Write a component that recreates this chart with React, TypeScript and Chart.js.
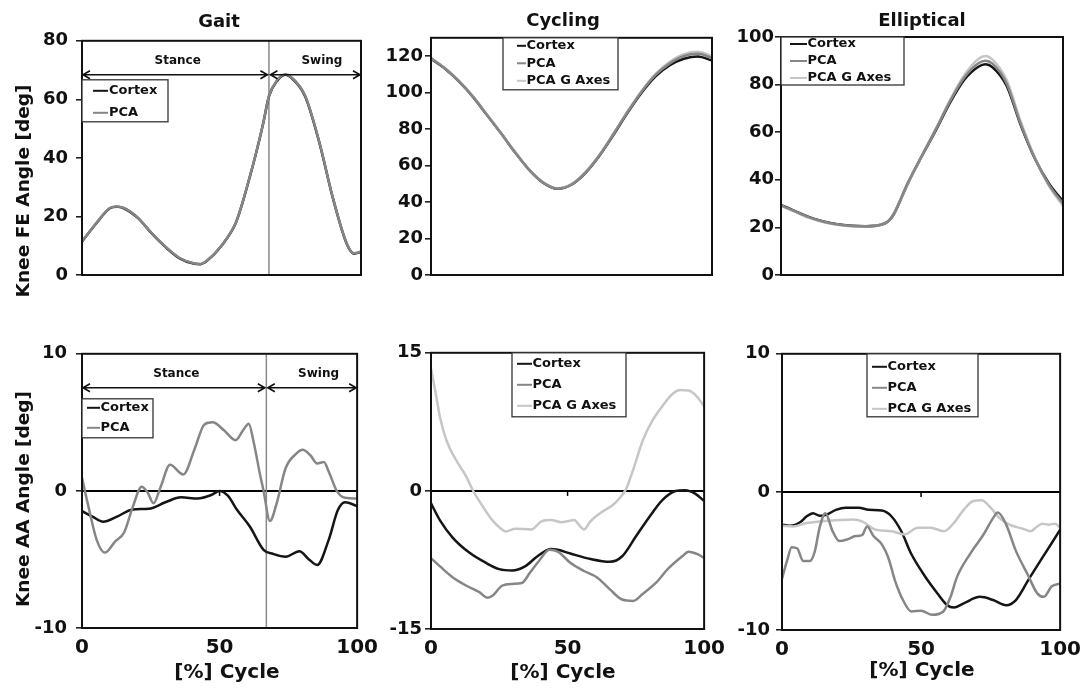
import React, { useEffect, useRef } from 'react';
import { Chart, registerables } from 'chart.js';

Chart.register(...registerables);

const FAMILY = "'DejaVu Sans', 'Liberation Sans', sans-serif";
const INK = '#111111';
const COLOR_CORTEX = '#151515';
const COLOR_PCA = '#868686';
const COLOR_PCAG = '#c6c6c6';

const SERIES_NAMES = ['Cortex', 'PCA', 'PCA G Axes'];
const PANEL_TITLES = ['Gait', 'Cycling', 'Elliptical'];
const Y_TITLES = ['Knee FE Angle [deg]', 'Knee AA Angle [deg]'];
const X_TITLE = '[%] Cycle';
const PHASE_LABELS = ['Stance', 'Swing'];
const PHASE_SPLIT = 67;
const PHASE_LABEL_AT = [34.3, 86];

// y tick labels per panel
const gaitFeTicks = [0, 20, 40, 60, 80];
const cycFeTicks = [0, 20, 40, 60, 80, 100, 120];
const ellFeTicks = [0, 20, 40, 60, 80, 100];
const gaitAaTicks = [-10, 0, 10];
const cycAaTicks = [-15, 0, 15];
const ellAaTicks = [-10, 0, 10];
const xTicks = [0, 50, 100];

// ---------- Gait FE ----------
const gaitFeX = [0, 5, 10, 12.5, 15, 20, 25, 30, 35, 40, 42.5, 45, 50, 55, 57, 60, 62.5, 65, 67, 70, 73, 75, 80, 85, 90, 95, 97.5, 100];
const gaitFeCortex = [11.4, 17.5, 22.8, 23.3, 22.8, 19.5, 14.2, 9.5, 5.7, 3.9, 3.7, 5.0, 10, 17.5, 23, 33, 42, 52, 61, 66.4, 68.4, 67.4, 61, 45.5, 26, 10.4, 7.3, 7.9];
const gaitFePca = [11.5, 17.6, 22.9, 23.4, 22.9, 19.6, 14.3, 9.6, 5.8, 4.0, 3.8, 5.1, 10.1, 17.6, 23.1, 33.1, 42.1, 52.1, 61.1, 66.6, 68.6, 67.6, 61.2, 45.6, 26.1, 10.5, 7.4, 8.0];

// ---------- Cycling FE ----------
const cycFeX = [0, 5, 10, 15, 20, 25, 30, 35, 40, 45, 50, 55, 60, 65, 70, 75, 80, 85, 90, 95, 100];
const cycFeCortex = [118.5, 113, 106, 97.5, 87.5, 77.5, 67, 57.5, 50.5, 47.3, 49.5, 56, 65.5, 77, 89, 100, 109, 115, 118.5, 119.8, 117.5];
const cycFePca = [118.8, 113.2, 106.2, 97.6, 87.6, 77.6, 67.1, 57.6, 50.6, 47.4, 49.6, 56.2, 65.8, 77.4, 89.5, 100.6, 109.8, 116, 120, 121.2, 119];
const cycFePcaG = [119, 113.4, 106.3, 97.8, 87.8, 77.7, 67.2, 57.7, 50.7, 47.5, 49.8, 56.4, 66, 77.7, 89.8, 101, 110.3, 116.8, 121, 122.3, 120];

// ---------- Elliptical FE ----------
const ellFeX = [0, 5, 10, 15, 20, 25, 30, 35, 38, 40, 45, 50, 55, 60, 65, 70, 72.5, 75, 80, 85, 90, 95, 100];
const ellFeCortex = [29.5, 26.8, 24.3, 22.5, 21.3, 20.7, 20.5, 21, 22.5, 25.5, 38.5, 50, 61, 72.5, 82, 87.5, 88.5, 87.3, 79.5, 63, 49, 38.5, 31];
const ellFePca = [29.3, 26.7, 24.2, 22.4, 21.2, 20.6, 20.4, 21, 22.6, 25.8, 38.8, 50.3, 61.5, 73.2, 83, 89, 90, 88.8, 80.5, 63.5, 49, 38, 30];
const ellFePcaG = [29, 26.5, 24, 22.3, 21.1, 20.5, 20.4, 21, 22.6, 25.8, 38.6, 50.2, 61.6, 73.6, 84, 90.8, 92, 90.5, 82, 64.5, 49.5, 37.5, 29];

// ---------- Gait AA ----------
const gaitAaCortexX = [0, 4, 7.7, 12.5, 18.4, 24.3, 30.3, 36, 42, 47, 50, 53, 56.4, 61, 66, 69.5, 74, 79, 82.5, 85.5, 89.7, 93, 95.6, 100];
const gaitAaCortex = [-1.47, -1.9, -2.25, -1.9, -1.35, -1.3, -0.83, -0.47, -0.55, -0.3, 0, -0.35, -1.4, -2.6, -4.3, -4.6, -4.8, -4.4, -5.0, -5.4, -3.55, -1.4, -0.83, -1.1];
const gaitAaPcaX = [0, 2.4, 5.3, 8.3, 12, 15.4, 18.4, 21.7, 23.8, 26, 28.5, 32, 36.8, 41, 44.5, 47.5, 51.7, 55.8, 58.8, 60.6, 62.4, 64.7, 66, 68.3, 70.7, 74, 77.8, 80.2, 83, 85.5, 87.9, 89.7, 92.6, 95.6, 100];
const gaitAaPca = [0.95, -1.2, -3.55, -4.5, -3.7, -3.0, -1.2, 0.3, -0.1, -0.9, 0.24, 1.9, 1.2, 3.1, 4.85, 5.0, 4.4, 3.7, 4.5, 4.9, 3.55, 1.2, 0, -2.2, -0.95, 1.65, 2.7, 3.0, 2.6, 2.0, 2.1, 1.4, 0, -0.5, -0.55];

// ---------- Cycling AA ----------
const cycAaCortexX = [0, 3.3, 8, 14, 20, 25, 29.7, 34.4, 39, 44, 46.4, 51, 58.4, 65.5, 70, 75, 80, 84.7, 89.5, 93, 96.7, 100];
const cycAaCortex = [-1.36, -3.2, -5.1, -6.7, -7.8, -8.5, -8.65, -8.2, -7.1, -6.3, -6.4, -6.8, -7.4, -7.7, -7.1, -4.95, -2.8, -1.0, 0, 0.07, -0.3, -1.1];
const cycAaPcaX = [0, 3.3, 8, 13, 17.7, 20.7, 22.5, 26, 29.7, 33.3, 36.2, 39.8, 43.4, 46.4, 51, 56, 60.8, 65.5, 70, 74, 77.5, 82.3, 87, 92, 94.3, 97.8, 100];
const cycAaPca = [-7.3, -8.2, -9.4, -10.3, -11.0, -11.6, -11.4, -10.3, -10.1, -10.0, -8.9, -7.5, -6.4, -6.6, -7.8, -8.7, -9.4, -10.7, -11.8, -11.95, -11.2, -10.0, -8.4, -7.1, -6.6, -6.9, -7.3];
const cycAaPcaGX = [0, 1.6, 3.3, 5.7, 9.3, 13, 15.3, 19, 22.5, 26, 27.3, 30.9, 36.8, 40.4, 44, 47.6, 50, 52.4, 54.2, 56, 58.4, 62, 66.7, 69, 71.5, 73.9, 77.5, 81, 84.7, 88.3, 91.3, 94.3, 97.2, 100];
const cycAaPcaG = [13.3, 10.8, 8.0, 5.45, 3.3, 1.5, 0.07, -1.7, -3.2, -4.2, -4.4, -4.1, -4.2, -3.3, -3.15, -3.4, -3.3, -3.15, -3.7, -4.2, -3.3, -2.4, -1.5, -0.8, 0.25, 2.2, 5.45, 7.6, 9.2, 10.5, 10.95, 10.9, 10.3, 9.2];

// ---------- Elliptical AA ----------
const ellAaCortexX = [0, 2.9, 6.5, 8.8, 11.2, 13.5, 15.9, 19.4, 22.9, 27.6, 31.2, 35.9, 39.4, 42.9, 46.5, 51.2, 55.9, 59.4, 61.8, 65.3, 71.2, 75.9, 80.6, 84.1, 88.8, 93.5, 97, 100];
const ellAaCortex = [-2.37, -2.45, -2.2, -1.78, -1.54, -1.73, -1.66, -1.3, -1.14, -1.14, -1.3, -1.35, -1.78, -2.85, -4.5, -6.05, -7.35, -8.2, -8.37, -8.07, -7.6, -7.83, -8.2, -7.83, -6.3, -4.8, -3.7, -2.73];
const ellAaPcaX = [0, 1.8, 3.5, 5.5, 7.6, 10, 11.8, 13.5, 15.6, 18.2, 20.6, 23.5, 26.5, 28.8, 30.6, 32.9, 35.9, 38.2, 40.6, 43.5, 46.5, 50, 54, 58, 60.6, 62.9, 67.6, 72.4, 75.9, 77.6, 80.6, 84.1, 88.2, 91.8, 94.1, 97, 100];
const ellAaPca = [-6.3, -5.0, -4.0, -4.1, -5.0, -5.0, -4.3, -2.6, -1.54, -2.85, -3.56, -3.44, -3.2, -3.13, -2.5, -3.2, -3.8, -4.75, -6.4, -7.83, -8.66, -8.6, -8.9, -8.66, -7.6, -6.17, -4.5, -3.1, -1.9, -1.5, -2.37, -4.27, -5.93, -7.35, -7.6, -6.83, -6.64];
const ellAaPcaGX = [0, 4.1, 8.8, 13.5, 19.4, 25.3, 28.8, 33.5, 39.4, 44.1, 48.8, 53.5, 58.2, 61.8, 65.3, 68.8, 71.8, 74.7, 78.2, 81.8, 86.5, 89.4, 91.2, 93.5, 95.9, 98.2, 100];
const ellAaPcaG = [-2.45, -2.5, -2.25, -2.14, -2.06, -2.0, -2.14, -2.73, -2.85, -3.08, -2.6, -2.6, -2.85, -2.25, -1.3, -0.66, -0.6, -1.07, -1.9, -2.37, -2.66, -2.85, -2.6, -2.3, -2.37, -2.3, -2.6];

// ---------- layout ----------
const Y_AXIS_W = 50;
const PAD_T = 12;
const PAD_R = 24;
const PAD_B = 12;
const X_AXIS_H = 40;

type Series = { label: string; x: number[]; y: number[]; color: string; order: number };
type LegendBox = { x: number; y: number; w: number; h: number; rows: number[]; line0: number; line1: number; text: number };
type PanelCfg = {
  left: number; top: number; plotW: number; plotH: number;
  yMin: number; yMax: number; yTicks: number[]; yPad: number;
  showX: boolean; zeroLine: boolean; phases: boolean;
  series: Series[]; legend: LegendBox;
};

const cortex = (x: number[], y: number[]): Series => ({ label: SERIES_NAMES[0], x, y, color: COLOR_CORTEX, order: 3 });
const pca = (x: number[], y: number[]): Series => ({ label: SERIES_NAMES[1], x, y, color: COLOR_PCA, order: 1 });
const pcaG = (x: number[], y: number[]): Series => ({ label: SERIES_NAMES[2], x, y, color: COLOR_PCAG, order: 2 });

const PANELS: PanelCfg[] = [
  {
    left: 82, top: 34, plotW: 279, plotH: 281, yMin: 0, yMax: 80, yTicks: gaitFeTicks, yPad: 8,
    showX: false, zeroLine: false, phases: true,
    series: [cortex(gaitFeX, gaitFeCortex), pca(gaitFeX, gaitFePca)],
    legend: { x: 0, y: 39, w: 86, h: 42, rows: [11, 33], line0: 11, line1: 26, text: 27 },
  },
  {
    left: 431, top: 37, plotW: 281, plotH: 278, yMin: 0, yMax: 130, yTicks: cycFeTicks, yPad: 2,
    showX: false, zeroLine: false, phases: false,
    series: [cortex(cycFeX, cycFeCortex), pca(cycFeX, cycFePca), pcaG(cycFeX, cycFePcaG)],
    legend: { x: 72, y: 0, w: 115, h: 52, rows: [8, 25.5, 43], line0: 14, line1: 23, text: 23.5 },
  },
  {
    left: 781, top: 37, plotW: 282, plotH: 278, yMin: 0, yMax: 100, yTicks: ellFeTicks, yPad: 1,
    showX: false, zeroLine: false, phases: false,
    series: [cortex(ellFeX, ellFeCortex), pca(ellFeX, ellFePca), pcaG(ellFeX, ellFePcaG)],
    legend: { x: 0, y: 0, w: 123, h: 48, rows: [7, 24, 41], line0: 9, line1: 26, text: 26.5 },
  },
  {
    left: 82, top: 346, plotW: 280, plotH: 282, yMin: -10, yMax: 10, yTicks: gaitAaTicks, yPad: 9,
    showX: true, zeroLine: true, phases: true,
    series: [cortex(gaitAaCortexX, gaitAaCortex), pca(gaitAaPcaX, gaitAaPca)],
    legend: { x: 0, y: 45, w: 71, h: 39, rows: [9, 29], line0: 5, line1: 18, text: 18.5 },
  },
  {
    left: 431, top: 351, plotW: 278, plotH: 278, yMin: -15, yMax: 15, yTicks: cycAaTicks, yPad: 3,
    showX: true, zeroLine: true, phases: false,
    series: [cortex(cycAaCortexX, cycAaCortex), pca(cycAaPcaX, cycAaPca), pcaG(cycAaPcaGX, cycAaPcaG)],
    legend: { x: 81, y: 0, w: 114, h: 64, rows: [11, 32, 53], line0: 5, line1: 20, text: 20.5 },
  },
  {
    left: 782, top: 349, plotW: 283, plotH: 281, yMin: -10, yMax: 10, yTicks: ellAaTicks, yPad: 6,
    showX: true, zeroLine: true, phases: false,
    series: [cortex(ellAaCortexX, ellAaCortex), pca(ellAaPcaX, ellAaPca), pcaG(ellAaPcaGX, ellAaPcaG)],
    legend: { x: 85, y: 0, w: 111, h: 63, rows: [13, 34, 55], line0: 5, line1: 20, text: 20.5 },
  },
];

function drawArrow(ctx: CanvasRenderingContext2D, xa: number, xb: number, y: number) {
  const hl = 7, hw = 4;
  ctx.beginPath();
  ctx.moveTo(xa, y); ctx.lineTo(xb, y);
  ctx.moveTo(xa + hl, y - hw); ctx.lineTo(xa, y); ctx.lineTo(xa + hl, y + hw);
  ctx.moveTo(xb - hl, y - hw); ctx.lineTo(xb, y); ctx.lineTo(xb - hl, y + hw);
  ctx.stroke();
}

function decorPlugin(p: PanelCfg) {
  return {
    id: 'decor',
    beforeDatasetsDraw(chart: any) {
      const { ctx, chartArea: a, scales } = chart;
      ctx.save();
      if (p.zeroLine) {
        const y0 = scales.y.getPixelForValue(0);
        ctx.strokeStyle = '#000';
        ctx.lineWidth = 2;
        ctx.beginPath(); ctx.moveTo(a.left, y0); ctx.lineTo(a.right, y0); ctx.stroke();
        const xm = scales.x.getPixelForValue(50);
        ctx.lineWidth = 1.5;
        ctx.beginPath(); ctx.moveTo(xm, y0); ctx.lineTo(xm, y0 + 5); ctx.stroke();
      }
      if (p.phases) {
        const xs = scales.x.getPixelForValue(PHASE_SPLIT);
        ctx.strokeStyle = '#8a8a8a';
        ctx.lineWidth = 1.5;
        ctx.beginPath(); ctx.moveTo(xs, a.top); ctx.lineTo(xs, a.bottom); ctx.stroke();
      }
      ctx.restore();
    },
    afterDatasetsDraw(chart: any) {
      const { ctx, chartArea: a, scales } = chart;
      ctx.save();
      if (p.phases) {
        const x0 = scales.x.getPixelForValue(0);
        const xs = scales.x.getPixelForValue(PHASE_SPLIT);
        const x1 = scales.x.getPixelForValue(100);
        const ya = a.top + 34;
        ctx.strokeStyle = INK;
        ctx.lineWidth = 1.6;
        drawArrow(ctx, x0 + 1, xs - 1.5, ya);
        drawArrow(ctx, xs + 1.5, x1 - 1, ya);
        ctx.fillStyle = INK;
        ctx.font = `bold 12px ${FAMILY}`;
        ctx.textAlign = 'center';
        ctx.textBaseline = 'middle';
        PHASE_LABELS.forEach((t, i) => ctx.fillText(t, scales.x.getPixelForValue(PHASE_LABEL_AT[i]), a.top + 20));
      }
      ctx.strokeStyle = INK;
      ctx.lineWidth = 2;
      ctx.strokeRect(a.left, a.top, a.right - a.left, a.bottom - a.top);

      const L = p.legend;
      const bx = a.left + L.x;
      const by = a.top + L.y;
      ctx.fillStyle = '#ffffff';
      ctx.fillRect(bx, by, L.w, L.h);
      ctx.strokeStyle = '#333333';
      ctx.lineWidth = 1.3;
      ctx.strokeRect(bx, by, L.w, L.h);
      chart.data.datasets.forEach((ds: any, i: number) => {
        const ry = by + L.rows[i];
        ctx.strokeStyle = ds.borderColor;
        ctx.lineWidth = 2;
        ctx.beginPath(); ctx.moveTo(bx + L.line0, ry); ctx.lineTo(bx + L.line1, ry); ctx.stroke();
        ctx.fillStyle = INK;
        ctx.font = `bold 13px ${FAMILY}`;
        ctx.textAlign = 'left';
        ctx.textBaseline = 'middle';
        ctx.fillText(ds.label, bx + L.text, ry);
      });
      ctx.restore();
    },
  };
}

function Panel({ cfg }: { cfg: PanelCfg }) {
  const ref = useRef<HTMLCanvasElement>(null);
  const w = Y_AXIS_W + cfg.plotW + PAD_R;
  const h = PAD_T + cfg.plotH + (cfg.showX ? X_AXIS_H : PAD_B);

  useEffect(() => {
    const canvas = ref.current;
    if (!canvas) return;
    const chart = new Chart(canvas, {
      type: 'line',
      data: {
        datasets: cfg.series.map((s) => ({
          label: s.label,
          data: s.x.map((x, i) => ({ x, y: s.y[i] })),
          borderColor: s.color,
          backgroundColor: s.color,
          borderWidth: 2.5,
          pointRadius: 0,
          fill: false,
          cubicInterpolationMode: 'monotone',
          order: s.order,
        })),
      },
      options: {
        animation: false,
        responsive: false,
        devicePixelRatio: 1,
        events: [],
        layout: { padding: { top: PAD_T, right: PAD_R, bottom: cfg.showX ? 0 : PAD_B, left: 0 } },
        plugins: { legend: { display: false }, tooltip: { enabled: false }, title: { display: false } },
        scales: {
          x: {
            type: 'linear',
            display: cfg.showX,
            min: 0,
            max: 100,
            afterBuildTicks: (s: any) => { s.ticks = xTicks.map((v) => ({ value: v })); },
            ticks: {
              maxRotation: 0,
              autoSkip: false,
              padding: 8,
              color: INK,
              font: { family: FAMILY, size: 20, weight: 'bold' },
            },
            grid: { display: false, drawTicks: false },
            border: { display: false },
            afterFit: (s: any) => { s.height = X_AXIS_H; },
          },
          y: {
            type: 'linear',
            min: cfg.yMin,
            max: cfg.yMax,
            afterBuildTicks: (s: any) => { s.ticks = cfg.yTicks.map((v) => ({ value: v })); },
            ticks: {
              autoSkip: false,
              padding: cfg.yPad,
              color: INK,
              font: { family: FAMILY, size: 18, weight: 'bold' },
            },
            grid: { display: true, drawOnChartArea: false, tickLength: 6, color: '#222222', lineWidth: 1.6 },
            border: { display: false },
            afterFit: (s: any) => { s.width = Y_AXIS_W; },
          },
        },
      } as any,
      plugins: [decorPlugin(cfg)],
    });
    return () => chart.destroy();
  }, [cfg]);

  return (
    <canvas
      ref={ref}
      width={w}
      height={h}
      style={{ position: 'absolute', left: cfg.left - Y_AXIS_W, top: cfg.top - PAD_T, width: w, height: h }}
    />
  );
}

function Label({ text, cx, cy, size, rotate }: { text: string; cx: number; cy: number; size: number; rotate?: boolean }) {
  return (
    <div
      style={{
        position: 'absolute',
        left: cx,
        top: cy,
        transform: `translate(-50%, -50%)${rotate ? ' rotate(-90deg)' : ''}`,
        fontFamily: FAMILY,
        fontWeight: 'bold',
        fontSize: size,
        lineHeight: `${size}px`,
        whiteSpace: 'nowrap',
        color: INK,
      }}
    >
      {text}
    </div>
  );
}

export default function App() {
  return (
    <div style={{ position: 'absolute', left: 0, top: 0, width: 1088, height: 692, background: '#ffffff', overflow: 'hidden' }}>
      {PANELS.map((p, i) => <Panel key={i} cfg={p} />)}
      <Label text={PANEL_TITLES[0]} cx={219} cy={21} size={18} />
      <Label text={PANEL_TITLES[1]} cx={563} cy={20} size={18} />
      <Label text={PANEL_TITLES[2]} cx={922} cy={20} size={18} />
      <Label text={Y_TITLES[0]} cx={23} cy={191} size={18.5} rotate />
      <Label text={Y_TITLES[1]} cx={23} cy={499} size={18.5} rotate />
      <Label text={X_TITLE} cx={227} cy={671} size={20} />
      <Label text={X_TITLE} cx={563} cy={671} size={20} />
      <Label text={X_TITLE} cx={922} cy={669} size={20} />
    </div>
  );
}
